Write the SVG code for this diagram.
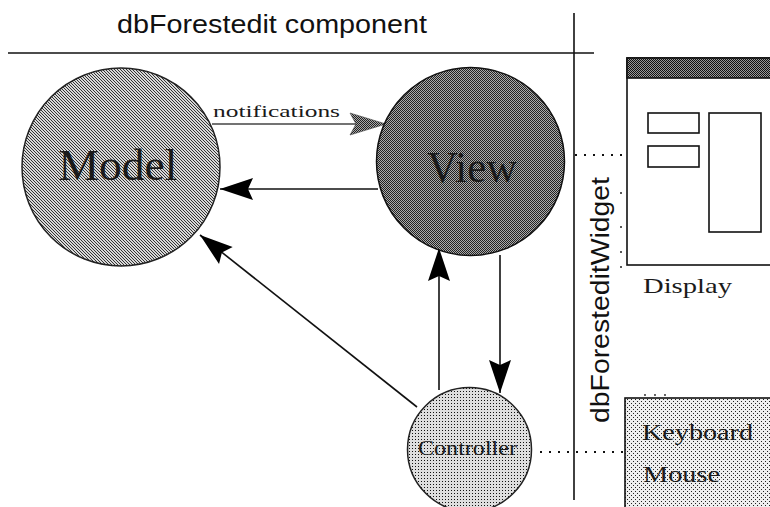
<svg xmlns="http://www.w3.org/2000/svg" width="770" height="507" viewBox="0 0 770 507">
  <style>
    .sans { font-family: "Liberation Sans", Arial, sans-serif; fill: #111; }
    .serif { font-family: "Liberation Serif", "Times New Roman", serif; fill: #1a1a1a; }
    .edge { stroke: #111; stroke-width: 1.6; fill: none; }
    .rule { stroke: #111; stroke-width: 1.6; fill: none; }
    .dots { stroke: #111; stroke-width: 2; fill: none; stroke-dasharray: 2 7; }
    .box { stroke: #111; stroke-width: 1.6; fill: #fff; }
  </style>
  <defs>
    <!-- dithered fills -->
    <pattern id="ditherModel" width="3" height="3" patternUnits="userSpaceOnUse">
      <rect width="3" height="3" fill="#d8d8d8"/>
      <rect x="0" y="0" width="1" height="1" fill="#333"/>
      <rect x="1" y="1" width="1" height="1" fill="#333"/>
      <rect x="2" y="2" width="1" height="1" fill="#333"/>
    </pattern>
    <pattern id="ditherView" width="2" height="2" patternUnits="userSpaceOnUse">
      <rect width="2" height="2" fill="#ababab"/>
      <rect x="0" y="0" width="1" height="1" fill="#222"/>
      <rect x="1" y="1" width="1" height="1" fill="#222"/>
    </pattern>
    <pattern id="ditherCtrl" width="3" height="3" patternUnits="userSpaceOnUse">
      <rect width="3" height="3" fill="#dedede"/>
      <rect x="1" y="1" width="1" height="1" fill="#111"/>
    </pattern>
    <pattern id="ditherInput" width="4" height="4" patternUnits="userSpaceOnUse">
      <rect width="4" height="4" fill="#eeeeee"/>
      <rect x="1" y="1" width="1" height="1" fill="#222"/>
      <rect x="3" y="3" width="1" height="1" fill="#222"/>
    </pattern>
    <pattern id="ditherBar" width="2" height="2" patternUnits="userSpaceOnUse">
      <rect width="2" height="2" fill="#999"/>
      <rect x="0" y="0" width="1" height="1" fill="#111"/>
      <rect x="1" y="1" width="1" height="1" fill="#111"/>
    </pattern>
    <pattern id="ditherHead" width="2" height="2" patternUnits="userSpaceOnUse">
      <rect width="2" height="2" fill="#aaa"/>
      <rect x="0" y="0" width="1" height="1" fill="#222"/>
      <rect x="1" y="1" width="1" height="1" fill="#222"/>
    </pattern>
    <marker id="head" viewBox="-34 -12 36 24" refX="0" refY="0" markerWidth="36" markerHeight="24"
            markerUnits="userSpaceOnUse" orient="auto">
      <path d="M0,0 L-33,-11 L-28,0 L-33,11 Z" fill="#000"/>
    </marker>
    <marker id="headGrey" viewBox="-38 -13 40 26" refX="0" refY="0" markerWidth="40" markerHeight="26"
            markerUnits="userSpaceOnUse" orient="auto">
      <path d="M0,0 L-36,-11 L-30,0 L-36,11 Z" fill="url(#ditherHead)" stroke="#444" stroke-width="0.6"/>
    </marker>
  </defs>

  <rect width="770" height="507" fill="#fff"/>

  <!-- component boundary -->
  <g id="boundary">
    <text class="sans" x="117" y="33" font-size="25" textLength="310" lengthAdjust="spacingAndGlyphs">dbForestedit component</text>
    <line class="rule" x1="8" y1="53" x2="594" y2="53"/>
    <line class="rule" x1="574" y1="13" x2="574" y2="500"/>
    <text class="sans" transform="translate(609,423) rotate(-90)" font-size="26" textLength="246" lengthAdjust="spacingAndGlyphs">dbForesteditWidget</text>
    <g fill="#222">
      <circle cx="621" cy="193" r="1"/>
      <circle cx="621" cy="227" r="1"/>
      <circle cx="621" cy="252" r="1"/>
      <circle cx="621" cy="267" r="1"/>
      <circle cx="645" cy="395" r="0.9"/>
      <circle cx="655" cy="395" r="0.9"/>
      <circle cx="665" cy="395" r="0.9"/>
    </g>
  </g>

  <!-- connectors -->
  <g id="connectors">
    <line x1="212" y1="124" x2="386" y2="124" stroke="#444" stroke-width="1.6" marker-end="url(#headGrey)"/>
    <text class="serif" x="213" y="117" font-size="16" textLength="127" lengthAdjust="spacingAndGlyphs" fill="#333">notifications</text>
    <line class="edge" x1="378" y1="189" x2="220" y2="189" marker-end="url(#head)"/>
    <line class="edge" x1="417" y1="407" x2="200" y2="235" marker-end="url(#head)"/>
    <line class="edge" x1="439" y1="390" x2="439" y2="248" marker-end="url(#head)"/>
    <line class="edge" x1="500" y1="255" x2="500" y2="393" marker-end="url(#head)"/>
    <line class="dots" x1="575" y1="155" x2="626" y2="155"/>
    <line class="dots" x1="540" y1="452" x2="626" y2="452"/>
  </g>

  <!-- Model -->
  <g id="model">
    <circle cx="121" cy="167" r="99" fill="url(#ditherModel)" stroke="#222" stroke-width="1.5"/>
    <text class="serif" x="118" y="180" font-size="44" text-anchor="middle" textLength="119" lengthAdjust="spacingAndGlyphs">Model</text>
  </g>

  <!-- View -->
  <g id="view">
    <circle cx="470.5" cy="161.5" r="94" fill="url(#ditherView)" stroke="#111" stroke-width="1.5"/>
    <text class="serif" x="472" y="182" font-size="44" text-anchor="middle" textLength="90" lengthAdjust="spacingAndGlyphs" fill="#2a2a2a">View</text>
  </g>

  <!-- Controller -->
  <g id="controller">
    <circle cx="469.5" cy="449.5" r="62" fill="url(#ditherCtrl)" stroke="#222" stroke-width="1.5"/>
    <text class="serif" x="418" y="455" font-size="20" textLength="99" lengthAdjust="spacingAndGlyphs">Controller</text>
  </g>

  <!-- Display window -->
  <g id="display">
    <rect class="box" x="627" y="58" width="160" height="207"/>
    <rect x="627" y="58" width="160" height="20" fill="url(#ditherBar)" stroke="#111" stroke-width="1.6"/>
    <rect class="box" x="648" y="113" width="51" height="20"/>
    <rect class="box" x="648" y="146" width="51" height="21"/>
    <rect class="box" x="709" y="113" width="52" height="119"/>
    <text class="serif" x="643" y="293" font-size="22" textLength="89" lengthAdjust="spacingAndGlyphs">Display</text>
  </g>

  <!-- Keyboard / Mouse -->
  <g id="input">
    <rect x="625" y="398" width="160" height="120" fill="url(#ditherInput)" stroke="#111" stroke-width="1.6"/>
    <text class="serif" x="642" y="440" font-size="24" textLength="111" lengthAdjust="spacingAndGlyphs">Keyboard</text>
    <text class="serif" x="643" y="482" font-size="24" textLength="77" lengthAdjust="spacingAndGlyphs">Mouse</text>
  </g>
</svg>
